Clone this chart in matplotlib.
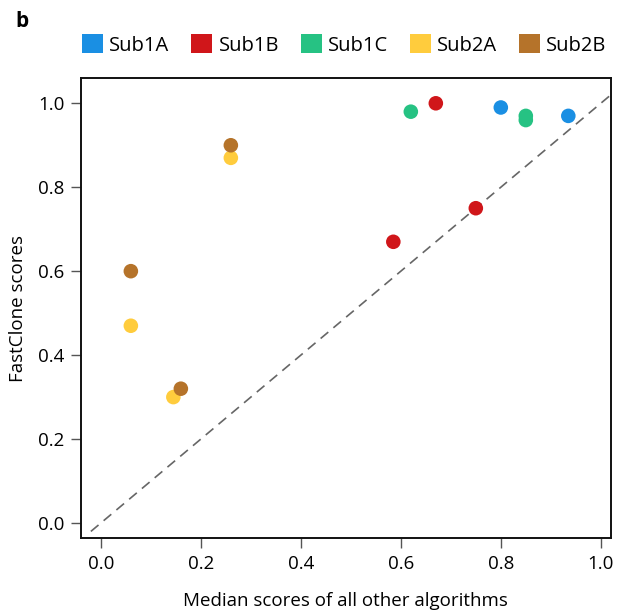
import matplotlib
matplotlib.use("Agg")
import matplotlib.pyplot as plt
from matplotlib.patches import Patch

plt.rcParams['font.family'] = ['Open Sans', 'DejaVu Sans']

groups = ["Sub1A", "Sub1B", "Sub1C", "Sub2A", "Sub2B"]
colors = ["#1a8fe3", "#d0161a", "#26c283", "#ffcc3d", "#b5732a"]
median_other = {
    "Sub1A": [0.80, 0.935],
    "Sub1B": [0.67, 0.585, 0.75],
    "Sub1C": [0.62, 0.85, 0.85],
    "Sub2A": [0.26, 0.06, 0.145],
    "Sub2B": [0.26, 0.06, 0.16],
}
fastclone = {
    "Sub1A": [0.99, 0.97],
    "Sub1B": [1.00, 0.67, 0.75],
    "Sub1C": [0.98, 0.97, 0.96],
    "Sub2A": [0.87, 0.47, 0.30],
    "Sub2B": [0.90, 0.60, 0.32],
}
ticks = [0.0, 0.2, 0.4, 0.6, 0.8, 1.0]

fig = plt.figure(figsize=(6.22, 6.15), dpi=100)
ax = fig.add_axes([0.130, 0.125, 0.852, 0.748])

ax.plot([-0.02, 1.02], [-0.02, 1.02], linestyle=(0, (6, 4)), color="#666666", lw=1.2, zorder=1)
for g, c in zip(groups, colors):
    ax.scatter(median_other[g], fastclone[g], s=110, color=c, edgecolors="none", zorder=3)

ax.set_xlim(-0.04, 1.02)
ax.set_ylim(-0.036, 1.06)
ax.set_xticks(ticks)
ax.set_yticks(ticks)
ax.set_xticklabels([f"{t:.1f}" for t in ticks])
ax.set_yticklabels([f"{t:.1f}" for t in ticks])
ax.tick_params(direction="out", length=7, width=1, color="#555555", labelsize=13.5, pad=5)
for s in ax.spines.values():
    s.set_linewidth(1.4)
    s.set_color("#111111")
ax.set_xlabel("Median scores of all other algorithms", fontsize=13.5, labelpad=14)
ax.set_ylabel("FastClone scores", fontsize=13.5, labelpad=8)

handles = [Patch(facecolor=c, edgecolor="none") for c in colors]
fig.legend(handles, groups, loc="center left", bbox_to_anchor=(0.119, 0.927), ncol=5,
           frameon=False, fontsize=14.5, handlelength=1.05, handleheight=1.05,
           handletextpad=0.3, columnspacing=1.08, borderaxespad=0)

fig.text(0.025, 0.965, "b", fontsize=15, fontweight="bold", va="center", ha="left")

fig.savefig("out.png", dpi=100)
